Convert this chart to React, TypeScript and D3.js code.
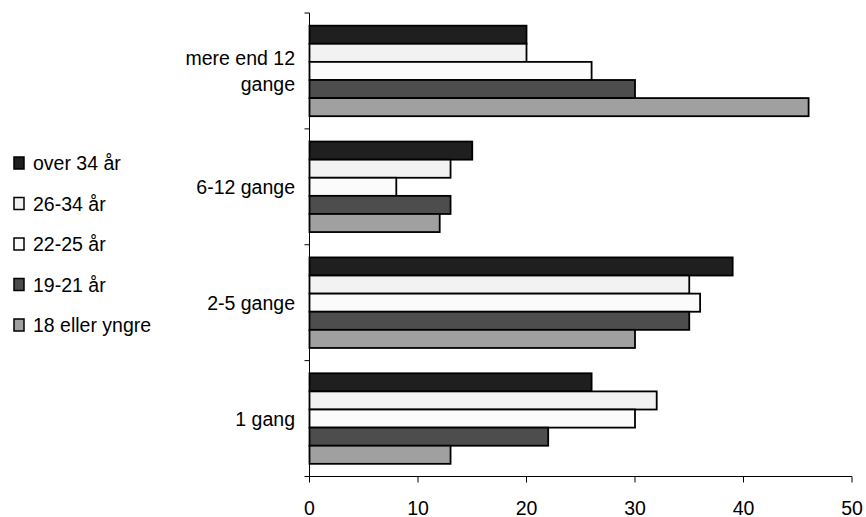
import React from "react";
import * as d3 from "d3";

const categories = ["mere end 12 gange", "6-12 gange", "2-5 gange", "1 gang"];
const categoryLines = [["mere end 12", "gange"], ["6-12 gange"], ["2-5 gange"], ["1 gang"]];
const seriesNames = ["over 34 år", "26-34 år", "22-25 år", "19-21 år", "18 eller yngre"];
const seriesColors = ["#1f1f1f", "#f2f2f2", "#fbfbfb", "#4d4d4d", "#a0a0a0"];
const over34 = [20, 15, 39, 26];
const age26to34 = [20, 13, 35, 32];
const age22to25 = [26, 8, 36, 30];
const age19to21 = [30, 13, 35, 22];
const age18under = [46, 12, 30, 13];
const seriesValues = [over34, age26to34, age22to25, age19to21, age18under];
const xTicks = [0, 10, 20, 30, 40, 50];

export default function App() {
  const W = 866, H = 517;
  const left = 309.5, right = 852, top = 13, bottom = 476.5;
  const fs = 19.5;
  const x = d3.scaleLinear().domain([0, 50]).range([left, right]);
  const y = d3.scaleBand().domain(categories).range([top, bottom]).paddingInner(0).paddingOuter(0);
  const inner = d3.scaleBand().domain(seriesNames).range([0, y.bandwidth()]).paddingOuter(0.7).paddingInner(0);
  const font = "Liberation Sans, Arial, sans-serif";
  const boundaries = categories.map((c) => y(c)!).concat([bottom]);
  return (
    <svg width={W} height={H} style={{ position: "absolute", left: 0, top: 0 }} fontFamily={font}>
      <rect width={W} height={H} fill="#fff" />
      {categories.map((c, ci) => (
        <g key={c}>
          {seriesNames.map((s, si) => (
            <rect
              key={s}
              x={x(0)}
              y={y(c)! + inner(s)!}
              width={x(seriesValues[si][ci]) - x(0)}
              height={inner.bandwidth()}
              fill={seriesColors[si]}
              stroke="#000"
              strokeWidth={1.8}
            />
          ))}
          {categoryLines[ci].map((line, li) => (
            <text
              key={li}
              x={295}
              y={y(c)! + y.bandwidth() / 2 + (li - (categoryLines[ci].length - 1) / 2) * 26 + 7}
              textAnchor="end"
              fontSize={fs}
              fill="#000"
            >
              {line}
            </text>
          ))}
        </g>
      ))}
      <line x1={left} x2={left} y1={top} y2={bottom} stroke="#000" strokeWidth={1} />
      {boundaries.map((b, i) => (
        <line key={i} x1={left - 5} x2={left} y1={b} y2={b} stroke="#000" strokeWidth={1} />
      ))}
      <line x1={left} x2={right} y1={bottom} y2={bottom} stroke="#000" strokeWidth={1} />
      {xTicks.map((t) => (
        <g key={t}>
          <line x1={x(t)} x2={x(t)} y1={bottom} y2={bottom + 6} stroke="#000" strokeWidth={1} />
          <text x={x(t)} y={bottom + 38} textAnchor="middle" fontSize={fs} fill="#000">
            {t}
          </text>
        </g>
      ))}
      {seriesNames.map((s, i) => (
        <g key={s} transform={`translate(14, ${163 + i * 40.5})`}>
          <rect x={0} y={-6} width={10} height={12} fill={seriesColors[i]} stroke="#000" strokeWidth={1.5} />
          <text x={19} y={7} fontSize={fs} fill="#000">
            {s}
          </text>
        </g>
      ))}
    </svg>
  );
}
